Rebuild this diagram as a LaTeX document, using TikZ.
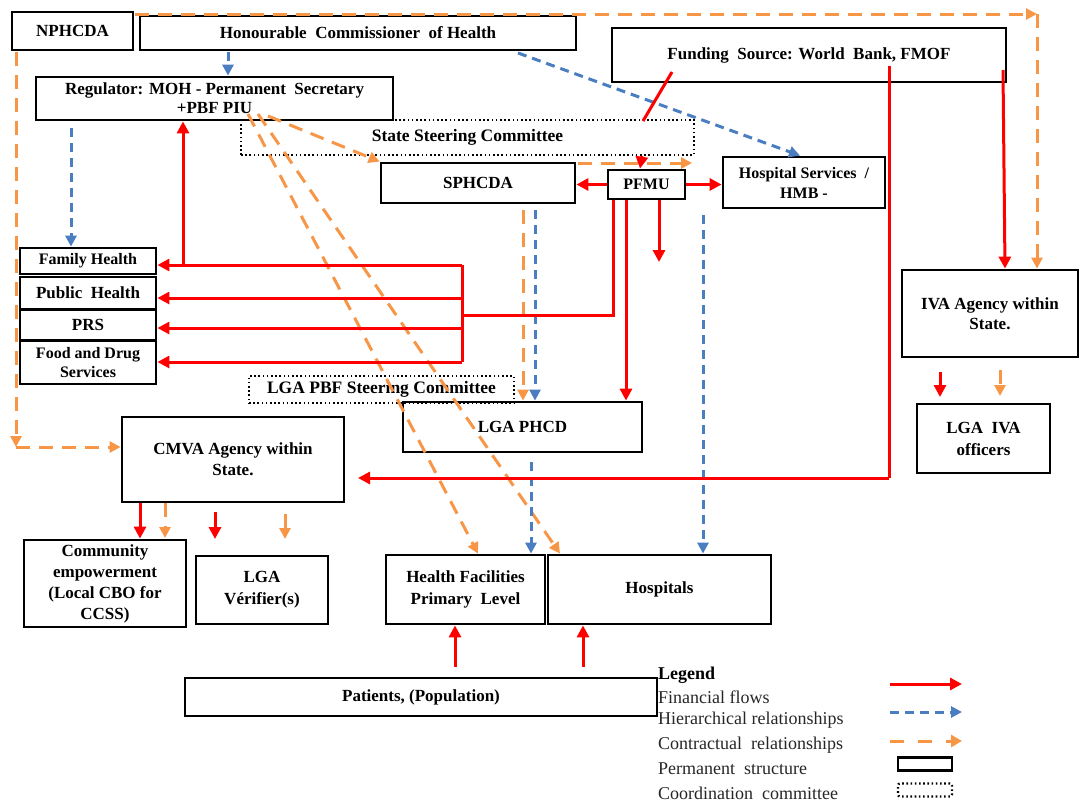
\documentclass[tikz,border=0pt]{standalone}
\usepackage{fontspec}
\setmainfont{Liberation Serif}
\usetikzlibrary{arrows.meta}
\definecolor{fin}{RGB}{255,0,0}
\definecolor{hier}{RGB}{74,126,193}
\definecolor{cont}{RGB}{247,150,70}
\begin{document}
\begin{tikzpicture}[x=1pt,y=-1pt,
  box/.style={draw=black,line width=2.8pt,align=center,inner sep=0pt,
    font=\bfseries\fontsize{17}{19}\selectfont},
  dotbox/.style={draw=black,line width=2.4pt,dash pattern=on 1.6pt off 2.6pt,
    align=center,inner sep=0pt,font=\bfseries\fontsize{17.5}{19}\selectfont},
  finline/.style={draw=fin,line width=3pt},
  finarrow/.style={finline,-{Triangle[length=12pt,width=12pt]}},
  hierline/.style={draw=hier,line width=3pt,dash pattern=on 9pt off 6pt},
  hierarrow/.style={hierline,-{Triangle[length=11pt,width=11pt]}},
  contline/.style={draw=cont,line width=3pt,dash pattern=on 14pt off 9pt},
  contarrow/.style={contline,-{Triangle[length=11pt,width=11pt]}},
  legtext/.style={anchor=west,inner sep=0pt,text=black!85,font=\fontsize{18}{20}\selectfont}
]
\useasboundingbox (0,0) rectangle (1080,801);

% ---------- nodes ----------
\node[box,minimum width=121pt,minimum height=38pt] (npc) at (72.5,31) {NPHCDA};
\node[box,minimum width=436pt,minimum height=34pt] (comm) at (358,33) {Honourable\ \ Commissioner\ \ of Health};
\node[box,minimum width=394pt,minimum height=54pt] (fund) at (809,55) {\raisebox{-3pt}{Funding\ \ Source: World\ \ Bank, FMOF}};
\node[box,minimum width=357pt,minimum height=43pt,font=\bfseries\fontsize{17}{19}\selectfont] (reg) at (214.5,98.5) {Regulator: MOH - Permanent\ \ Secretary\\+PBF PIU};
\node[dotbox,minimum width=453pt,minimum height=35pt] (ssc) at (467.5,137.5) {State Steering Committee};
\node[box,minimum width=194pt,minimum height=40pt] (sph) at (478,183) {SPHCDA};
\node[box,minimum width=77pt,minimum height=29pt,font=\bfseries\fontsize{16}{18}\selectfont] (pfmu) at (646.5,184.5) {PFMU};
\node[box,minimum width=162pt,minimum height=51pt,font=\bfseries\fontsize{16}{20}\selectfont] (hosp) at (804,182.5) {Hospital Services\ \ /\\HMB -};
\node[box,minimum width=136pt,minimum height=26pt,font=\bfseries\fontsize{16}{18}\selectfont] (fam) at (88,261) {\raisebox{-2.5pt}{Family Health}};
\node[box,minimum width=136pt,minimum height=32pt] (pub) at (88,293) {Public\ \ Health};
\node[box,minimum width=136pt,minimum height=30pt] (prs) at (88,325) {PRS};
\node[box,minimum width=136pt,minimum height=43pt,font=\bfseries\fontsize{16}{19}\selectfont] (food) at (88,362.5) {Food and Drug\\Services};
\node[dotbox,minimum width=265pt,minimum height=27pt] (lgasc) at (381.5,389.5) {LGA PBF Steering Committee};
\node[box,minimum width=239pt,minimum height=50pt] (lgaphcd) at (522.5,427) {LGA PHCD};
\node[box,minimum width=176pt,minimum height=87pt,font=\bfseries\fontsize{17}{20}\selectfont] (iva) at (990,313.5) {IVA Agency within\\State.};
\node[box,minimum width=133pt,minimum height=69pt,font=\bfseries\fontsize{17}{22}\selectfont] (ivaoff) at (983.5,438.5) {LGA\ \ IVA\\officers};
\node[box,minimum width=222pt,minimum height=85pt,font=\bfseries\fontsize{17}{21}\selectfont] (cmva) at (233,459.5) {CMVA Agency within\\State.};
\node[box,minimum width=162pt,minimum height=87pt,font=\bfseries\fontsize{17}{21}\selectfont] (comemp) at (105,583.5) {\raisebox{-3pt}{\begin{tabular}{@{}c@{}}Community\\empowerment\\(Local CBO for\\CCSS)\end{tabular}}};
\node[box,minimum width=132pt,minimum height=68pt,font=\bfseries\fontsize{17}{22}\selectfont] (verif) at (262,590) {LGA\\Vérifier(s)};
\node[box,minimum width=159pt,minimum height=69pt,font=\bfseries\fontsize{17}{22}\selectfont] (hf) at (465.5,589.5) {Health Facilities\\Primary\ \ Level};
\node[box,minimum width=223pt,minimum height=69pt] (hosps) at (659.5,589.5) {Hospitals};
\node[box,minimum width=472pt,minimum height=38pt] (pat) at (421,697) {Patients, (Population)};

% ---------- legend ----------
\node[legtext,font=\bfseries\fontsize{18}{20}\selectfont,text=black] (legh) at (658,675) {Legend};
\node[legtext] (leg1) at (658,697) {Financial flows};
\node[legtext] (leg2) at (658,720) {Hierarchical relationships};
\node[legtext] (leg3) at (658,745) {Contractual\ \ relationships};
\node[legtext] (leg4) at (658,769) {Permanent\ \ structure};
\node[legtext] (leg5) at (658,793) {Coordination\ \ committee};
\coordinate (l1a) at (890,684); \coordinate (l1b) at (962,684);
\coordinate (l2a) at (890,712); \coordinate (l2b) at (962,712);
\coordinate (l3a) at (890,741); \coordinate (l3b) at (962,741);
\draw[finarrow] (l1a) -- (l1b);
\draw[hierarrow] (l2a) -- (l2b);
\draw[contline,-{Triangle[length=11pt,width=12pt]},dash pattern=on 14pt off 14pt] (l3a) -- (l3b);
\node[box,minimum width=54pt,minimum height=13pt] (legbox) at (925,764) {};
\node[dotbox,rounded corners=2pt,minimum width=54pt,minimum height=13pt] (legdot) at (925,790) {};

% ---------- contractual (orange) ----------
\coordinate (tr) at (1037,14);
\coordinate (bl) at (16,447);
\draw[contarrow] (135,14) -- (tr);
\draw[contarrow] (tr) -- (1037,0 |- iva.north);
\draw[contarrow] (16,52) -- (bl);
\draw[contarrow] (bl) -- (cmva.west |- bl);
\draw[contarrow] (268,116) -- (sph.north west);
\draw[contarrow] (248,114) -- (478,0 |- hf.north);
\draw[contarrow] (258,114) -- (560,0 |- hosps.north);
\draw[contarrow] (578,163) -- (692,163);
\draw[contarrow] (523,210) -- (523,0 |- lgaphcd.north);
\draw[contarrow] (165,0 |- cmva.south) -- (165,538);
\draw[contarrow] (285,514) -- (285,539);
\draw[contarrow] (1000,370) -- (1000,396);

% ---------- hierarchical (blue) ----------
\draw[hierarrow] (228,52) -- (228,0 |- reg.north);
\draw[hierarrow] (518,53) -- (800,0 |- hosp.north);
\draw[hierarrow] (71,128) -- (71,0 |- fam.north);
\draw[hierarrow] (535,210) -- (535,0 |- lgaphcd.north);
\draw[hierarrow] (703,215) -- (703,0 |- hosps.north);
\draw[hierarrow] (531,462) -- (531,0 |- hf.north);

% ---------- financial (red) ----------
\draw[finline] (672,72) -- (643,121);
\draw[finarrow] (642,156) -- (640,0 |- pfmu.north);
\draw[finarrow] (pfmu.west) -- (sph.east |- pfmu.west);
\draw[finarrow] (pfmu.east) -- (hosp.west |- pfmu.east);
\draw[finarrow] (626,0 |- pfmu.south) -- (626,0 |- lgaphcd.north);
\draw[finarrow] (659,0 |- pfmu.south) -- (659,262);
\draw[finline] (613,0 |- pfmu.south) -- (613,315) -- (462,315);
\draw[finline] (462,265) -- (462,362);
\draw[finarrow] (462,265) -- (fam.east |- 0,265);
\draw[finarrow] (462,298) -- (pub.east |- 0,298);
\draw[finarrow] (462,328) -- (prs.east |- 0,328);
\draw[finarrow] (462,362) -- (food.east |- 0,362);
\draw[finarrow] (183,265) -- (183,0 |- reg.south);
\draw[finline] (889,66) -- (889,478);
\draw[finarrow] (889,478) -- (358,478);
\draw[finarrow] (1003,70) -- (1005,0 |- iva.north);
\draw[finarrow] (140,0 |- cmva.south) -- (140,0 |- comemp.north);
\draw[finarrow] (215,512) -- (215,539);
\draw[finarrow] (940,372) -- (940,397);
\draw[finarrow] (455,667) -- (455,0 |- hf.south);
\draw[finarrow] (583,667) -- (583,0 |- hosps.south);
\end{tikzpicture}
\end{document}
